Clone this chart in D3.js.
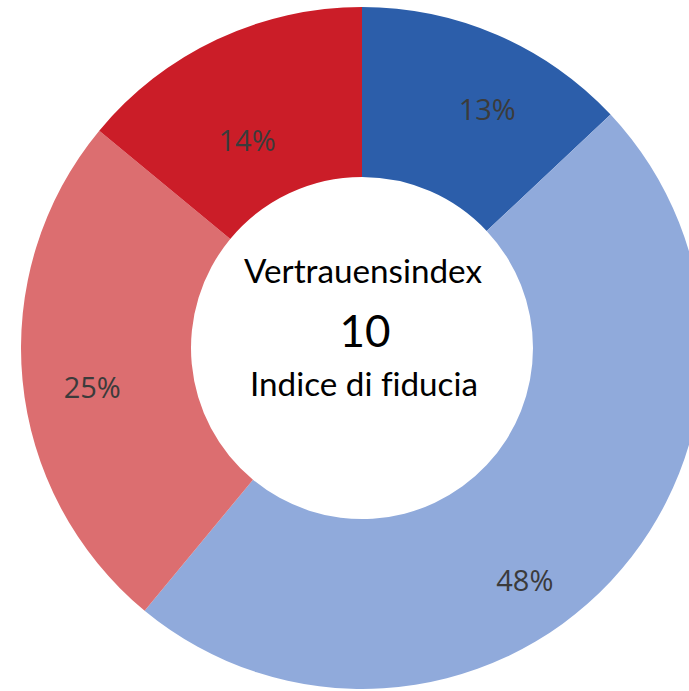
<!DOCTYPE html>
<html><head><meta charset="utf-8">
<script src="https://cdn.jsdelivr.net/npm/d3@7"></script>
<style>html,body{margin:0;padding:0;background:#fff;}svg{display:block;}text{font-variant-ligatures:none;font-feature-settings:"liga" 0;}</style>
</head><body>
<svg id="chart" width="689" height="691"></svg>
<script>
// Data
const categories = ["blue_dark", "blue_light", "red_light", "red_dark"];
const values = [13, 48, 25, 14];
const labels = ["13%", "48%", "25%", "14%"];
const colors = ["#2c5eaa", "#90aadb", "#dc6e70", "#cb1d28"];
const centerTitle = "Vertrauensindex";
const centerValue = "10";
const centerSubtitle = "Indice di fiducia";

// Layout
const W = 689, H = 691;
const cx = 362, cy = 348;
const outerR = 341, innerR = 171;
const labelR = 270;
const labelNudge = [[18, 8], [-34, 47], [-1, 13], [0, 36]];

const svg = d3.select("#chart");
const g = svg.append("g").attr("transform", `translate(${cx},${cy})`);

const pie = d3.pie().sort(null).value(d => d.v);
const arcs = pie(values.map((v, i) => ({v, i})));
const arc = d3.arc().innerRadius(innerR).outerRadius(outerR);
const labelArc = d3.arc().innerRadius(labelR).outerRadius(labelR);

g.selectAll("path.slice").data(arcs).join("path")
  .attr("class", "slice")
  .attr("d", arc)
  .attr("fill", d => colors[d.data.i]);

g.selectAll("text.pct").data(arcs).join("text")
  .attr("class", "pct")
  .attr("x", d => labelArc.centroid(d)[0] + labelNudge[d.data.i][0])
  .attr("y", d => labelArc.centroid(d)[1] + labelNudge[d.data.i][1])
  .attr("text-anchor", "middle")
  .attr("dominant-baseline", "central")
  .attr("font-family", "'Open Sans', sans-serif")
  .attr("font-size", 29)
  .attr("fill", "#3b3b3b")
  .text(d => labels[d.data.i]);

function fitText(sel, targetW) {
  const w = sel.node().getComputedTextLength();
  const fs = parseFloat(sel.attr("font-size"));
  sel.attr("font-size", fs * targetW / w);
}

const font = "Lato, 'Open Sans', sans-serif";
const t1 = svg.append("text").attr("x", cx + 1).attr("y", 283)
  .attr("text-anchor", "middle").attr("font-family", font)
  .attr("font-size", 30).attr("fill", "#000").text(centerTitle);
fitText(t1, 238);
const t2 = svg.append("text").attr("x", cx + 3).attr("y", 347)
  .attr("text-anchor", "middle").attr("font-family", font)
  .attr("font-size", 46).attr("fill", "#000").text(centerValue);
fitText(t2, 51);
const t3 = svg.append("text").attr("x", cx + 2).attr("y", 396)
  .attr("text-anchor", "middle").attr("font-family", font)
  .attr("font-size", 30).attr("fill", "#000").text(centerSubtitle);
fitText(t3, 228);
</script>
</body></html>
